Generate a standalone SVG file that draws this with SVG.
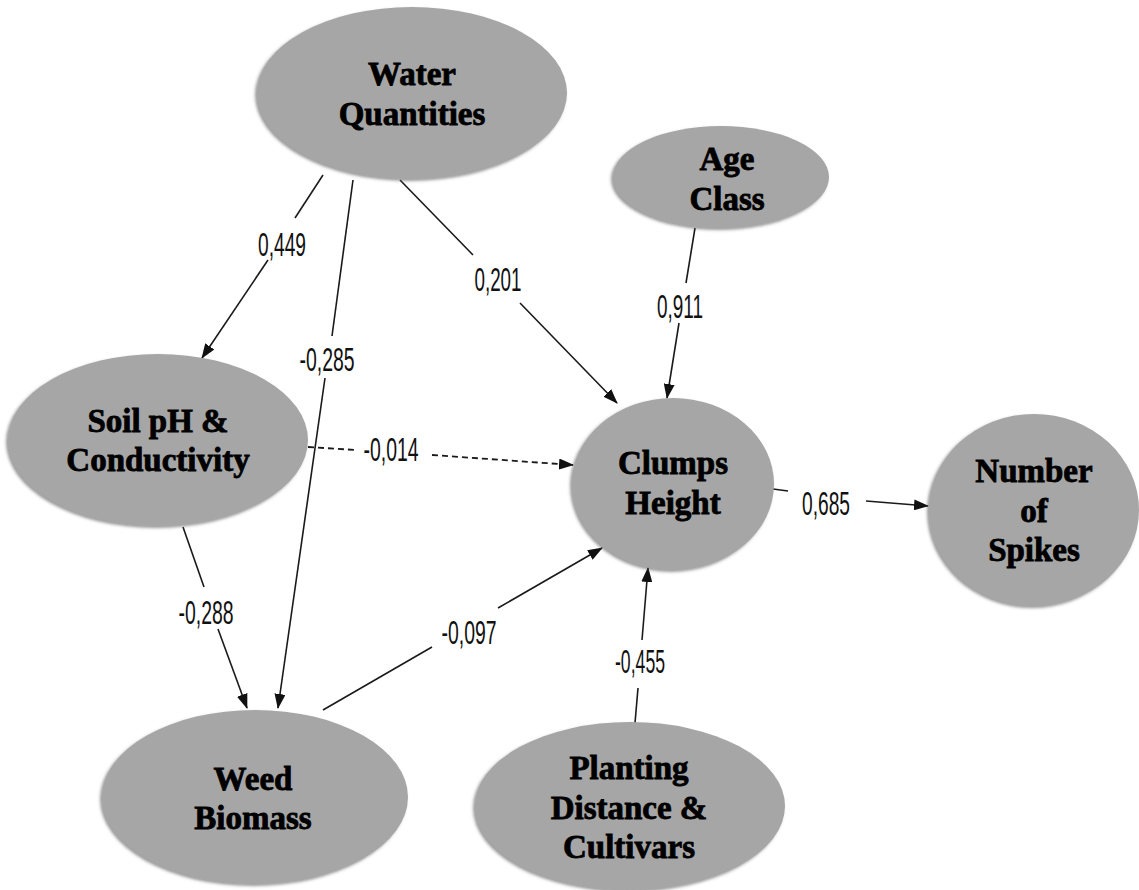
<svg xmlns="http://www.w3.org/2000/svg" width="1139" height="890" viewBox="0 0 1139 890">
<style>
.node{fill:#a6a6a6;filter:url(#sh);}
.nt{font-family:"Liberation Serif","Times New Roman",serif;font-weight:bold;font-size:33px;fill:#000;stroke:#000;stroke-width:0.8;text-anchor:middle;}
.lbl{font-family:"Liberation Sans",Arial,sans-serif;font-size:33px;fill:#111;text-anchor:middle;}
.ln{stroke:#1a1a1a;stroke-width:1.6;fill:none;}
.dash{stroke-dasharray:6 4;stroke-width:1.8;}
</style>
<defs>
<filter id="sh" x="-10%" y="-10%" width="120%" height="120%">
<feDropShadow dx="-2" dy="2" stdDeviation="1.5" flood-color="#555" flood-opacity="0.6"/>
</filter>
<marker id="ah" markerWidth="15" markerHeight="11" refX="14" refY="5.5" orient="auto" markerUnits="userSpaceOnUse">
<path d="M0,0 L15,5.5 L0,11 Z" fill="#111"/>
</marker>
</defs>
<rect width="1139" height="890" fill="#fff"/>

<g id="connectors">
<line class="ln" x1="323" y1="175" x2="295" y2="218"/>
<line class="ln" x1="268" y1="260" x2="202" y2="358" marker-end="url(#ah)"/>
<text class="lbl" x="282" y="256" textLength="48" lengthAdjust="spacingAndGlyphs">0,449</text>

<line class="ln" x1="353" y1="180" x2="332" y2="336"/>
<line class="ln" x1="325" y1="378" x2="278" y2="708" marker-end="url(#ah)"/>
<text class="lbl" x="327" y="371" textLength="55" lengthAdjust="spacingAndGlyphs">-0,285</text>

<line class="ln" x1="400" y1="180" x2="473" y2="255"/>
<line class="ln" x1="520" y1="303" x2="617" y2="403" marker-end="url(#ah)"/>
<text class="lbl" x="498" y="291" textLength="47" lengthAdjust="spacingAndGlyphs">0,201</text>

<line class="ln" x1="695" y1="228" x2="686" y2="283"/>
<line class="ln" x1="679" y1="323" x2="667" y2="398" marker-end="url(#ah)"/>
<text class="lbl" x="680" y="318" textLength="46" lengthAdjust="spacingAndGlyphs">0,911</text>

<line class="ln dash" x1="308" y1="447" x2="356" y2="450"/>
<line class="ln dash" x1="432" y1="455" x2="573" y2="465" marker-end="url(#ah)"/>
<text class="lbl" x="391" y="461" textLength="55" lengthAdjust="spacingAndGlyphs">-0,014</text>

<line class="ln" x1="183" y1="527" x2="204" y2="587"/>
<line class="ln" x1="218" y1="629" x2="247" y2="708" marker-end="url(#ah)"/>
<text class="lbl" x="206" y="624" textLength="55" lengthAdjust="spacingAndGlyphs">-0,288</text>

<line class="ln" x1="323" y1="710" x2="432" y2="647"/>
<line class="ln" x1="498" y1="608" x2="602" y2="548" marker-end="url(#ah)"/>
<text class="lbl" x="469" y="644" textLength="55" lengthAdjust="spacingAndGlyphs">-0,097</text>

<line class="ln" x1="635" y1="723" x2="638" y2="688"/>
<line class="ln" x1="642" y1="640" x2="648" y2="568" marker-end="url(#ah)"/>
<text class="lbl" x="640" y="673" textLength="50" lengthAdjust="spacingAndGlyphs">-0,455</text>

<line class="ln" x1="773" y1="489" x2="788" y2="491"/>
<line class="ln" x1="866" y1="501" x2="928" y2="506" marker-end="url(#ah)"/>
<text class="lbl" x="826" y="515" textLength="48" lengthAdjust="spacingAndGlyphs">0,685</text>
</g>

<g id="water">
<ellipse class="node" cx="412" cy="93" rx="155" ry="86"/>
<text class="nt" x="412" y="85">Water</text>
<text class="nt" x="412" y="125">Quantities</text>
</g>
<g id="age">
<ellipse class="node" cx="721" cy="177" rx="108" ry="51"/>
<text class="nt" x="727" y="170">Age</text>
<text class="nt" x="727" y="210">Class</text>
</g>
<g id="soil">
<ellipse class="node" cx="158" cy="440" rx="150" ry="86"/>
<text class="nt" x="158" y="432">Soil pH &amp;</text>
<text class="nt" x="158" y="471">Conductivity</text>
</g>
<g id="clumps">
<ellipse class="node" cx="673" cy="484" rx="101" ry="86"/>
<text class="nt" x="673" y="474">Clumps</text>
<text class="nt" x="673" y="514">Height</text>
</g>
<g id="spikes">
<ellipse class="node" cx="1034" cy="510" rx="105" ry="96"/>
<text class="nt" x="1034" y="482">Number</text>
<text class="nt" x="1034" y="522">of</text>
<text class="nt" x="1034" y="561">Spikes</text>
</g>
<g id="weed">
<ellipse class="node" cx="255" cy="797" rx="153" ry="87"/>
<text class="nt" x="253" y="790">Weed</text>
<text class="nt" x="253" y="829">Biomass</text>
</g>
<g id="planting">
<ellipse class="node" cx="630" cy="806" rx="155" ry="84"/>
<text class="nt" x="629" y="779">Planting</text>
<text class="nt" x="629" y="819">Distance &amp;</text>
<text class="nt" x="629" y="858">Cultivars</text>
</g>
</svg>
